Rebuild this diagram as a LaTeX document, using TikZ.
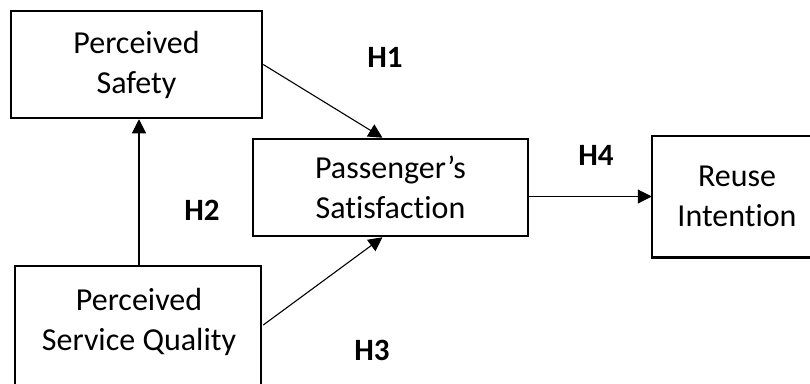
\documentclass[tikz,border=0pt]{standalone}
\usepackage{fontspec}
\setmainfont[Ligatures=NoCommon]{Carlito}
\usetikzlibrary{arrows.meta}
\usetikzlibrary{positioning}
\tikzset{block/.style={draw, rectangle, line width=2.5pt, align=center, inner sep=0pt, font=\fontsize{32}{40}\selectfont}}
\tikzset{connect/.style={draw, line width=1.1pt, -{Triangle[length=14pt,width=14pt]}}}
\tikzset{hyp/.style={font=\fontsize{31}{36}\selectfont\bfseries}}

\begin{document}
\begin{tikzpicture}[x=1pt,y=-1pt]

\useasboundingbox (0,0) rectangle (810,383);
\clip (0,0) rectangle (810,383);

%constructs
\node[block,minimum width=251pt,minimum height=107pt] (safety) at (136.5,64.5) {Perceived\\Safety};
\node[block,minimum width=275pt,minimum height=97pt] (satisf) at (390.5,187.5) {Passenger’s\\Satisfaction};
\node[block,draw=none,minimum width=168pt,minimum height=119pt] (reuse) at (737,196.5) {Reuse\\Intention};
\draw[line width=2.5pt] ([xshift=200pt]reuse.south west) -- (reuse.south west) -- (reuse.north west) -- ++(200,0);
\node[block,draw=none,minimum width=246pt,minimum height=110pt] (quality) at (139,322) {Perceived\\Service Quality};
\draw[line width=2.5pt] (quality.north west) rectangle ++(246,130);

%hypotheses
\path[connect] (quality.north) -- (quality.north |- safety.south);
\path[connect] (safety.east) -- ([xshift=-8pt]satisf.north);
\path[connect] ([yshift=-3pt]quality.east) -- ([xshift=-8pt]satisf.south);
\path[connect] (reuse.west -| satisf.east) -- (reuse.west);

%labels
\node[hyp] (h1) at (385,57) {H1};
\node[hyp] (h2) at (202,210) {H2};
\node[hyp] (h3) at (372,350) {H3};
\node[hyp] (h4) at (596,155) {H4};

\end{tikzpicture}
\end{document}
